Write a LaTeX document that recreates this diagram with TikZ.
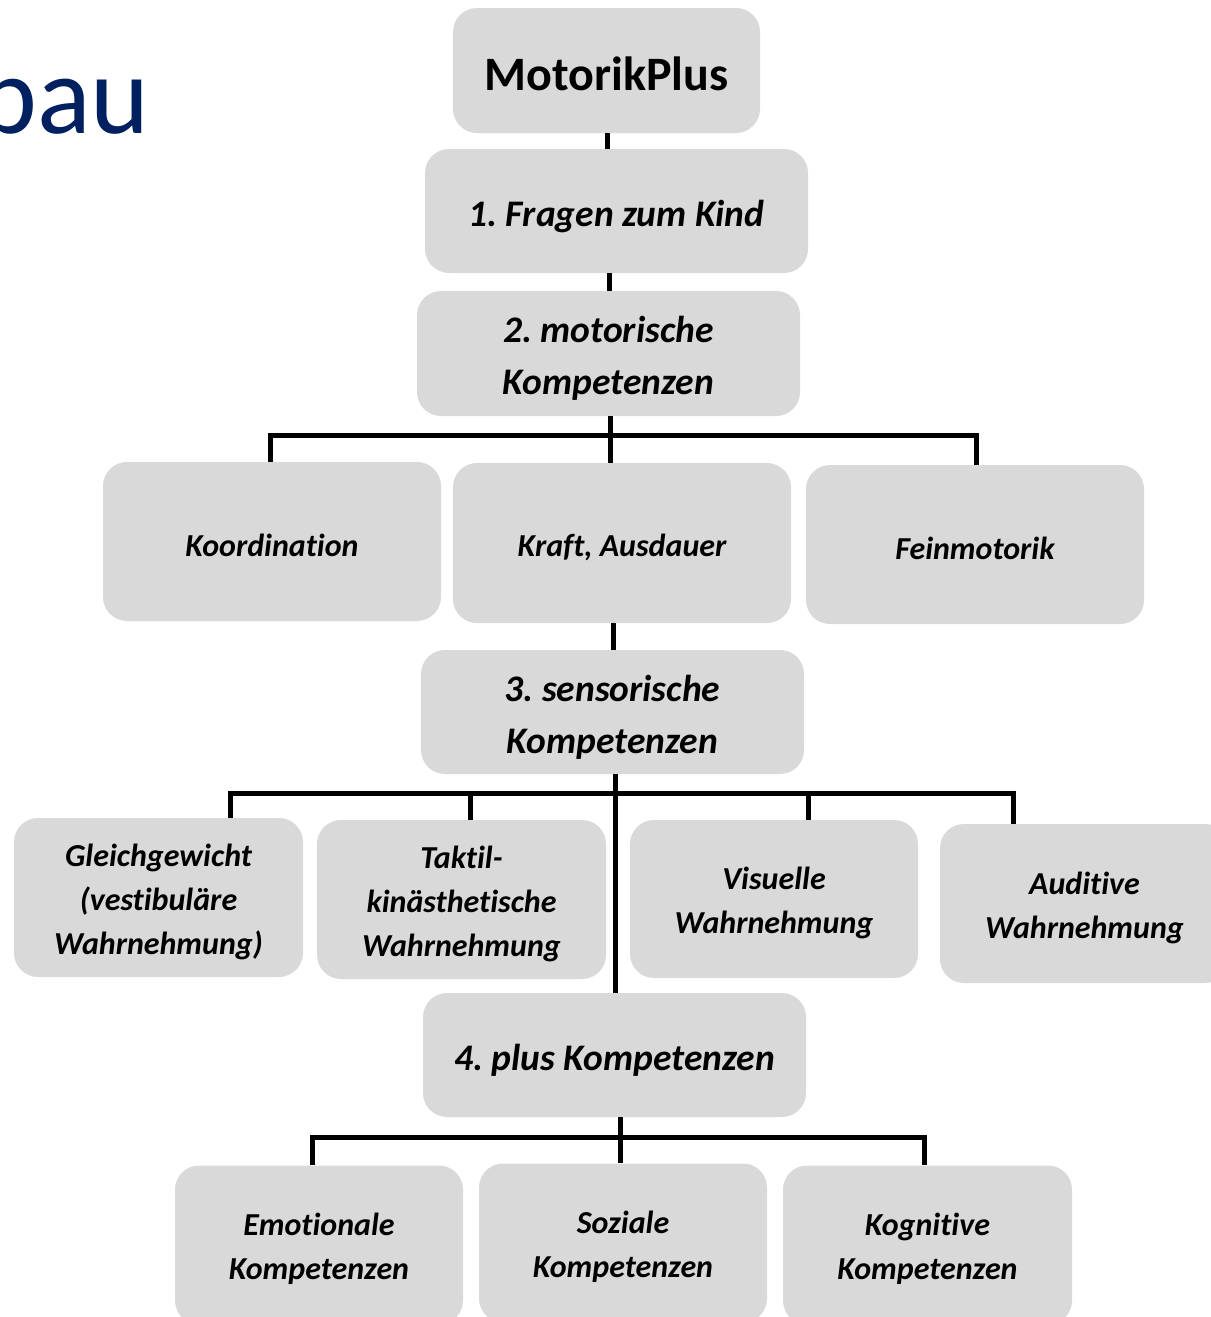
\documentclass[tikz,border=0pt]{standalone}
\usepackage{fontspec}
\setmainfont{Carlito}[Ligatures=NoCommon]
\definecolor{boxgray}{HTML}{D9D9D9}
\definecolor{navy}{HTML}{002060}
\begin{document}
\frenchspacing
\begin{tikzpicture}[x=1pt,y=-1pt,
  box/.style={fill=boxgray, rounded corners=24pt, inner sep=0pt},
  smalltext/.style={align=center, inner sep=0pt, yshift=-4pt,
    font=\fontsize{32}{44}\selectfont\bfseries\itshape},
  bigtext/.style={align=center, inner sep=0pt, yshift=-5pt,
    font=\fontsize{37.5}{52}\selectfont\bfseries\itshape},
  toptext/.style={align=center, inner sep=0pt, yshift=-3pt,
    font=\fontsize{48}{56}\selectfont\bfseries},
  conn/.style={line width=5pt, black}]
\useasboundingbox (0,0) rectangle (1210,1317);

\node[anchor=base east, text=navy, inner sep=0pt, font=\fontsize{112}{112}\selectfont] (title) at (150,133) {bau};

% level 0/1
\node[box, minimum width=307pt, minimum height=125pt, label={[toptext]center:MotorikPlus}] (mp) at (606.5,70.5) {};
\node[box, minimum width=383pt, minimum height=124pt, label={[bigtext]center:1. Fragen zum Kind}] (f1) at (616.5,211) {};
\node[box, minimum width=383pt, minimum height=125pt, label={[bigtext]center:{2. motorische\\Kompetenzen}}] (f2) at (608.5,353.5) {};

% motor row
\node[box, minimum width=338pt, minimum height=159pt, label={[smalltext]center:Koordination}] (koord) at (272,541.5) {};
\node[box, minimum width=338pt, minimum height=160pt, label={[smalltext]center:{Kraft, Ausdauer}}] (kraft) at (622,543) {};
\node[box, minimum width=338pt, minimum height=159pt, label={[smalltext]center:Feinmotorik}] (fein) at (975,544.5) {};

\node[box, minimum width=383pt, minimum height=124pt, label={[bigtext]center:{3. sensorische\\Kompetenzen}}] (f3) at (612.5,712) {};

% sensory row
\node[box, minimum width=289pt, minimum height=159pt, label={[smalltext]center:{Gleichgewicht\\(vestibuläre\\Wahrnehmung)}}] (gleich) at (158.5,897.5) {};
\node[box, minimum width=289pt, minimum height=159pt, label={[smalltext]center:{Taktil-\\kinästhetische\\Wahrnehmung}}] (taktil) at (461.5,899.5) {};
\node[box, minimum width=288pt, minimum height=158pt, label={[smalltext]center:{Visuelle\\Wahrnehmung}}] (visu) at (774,899) {};
\node[box, minimum width=289pt, minimum height=159pt, label={[smalltext]center:{Auditive\\Wahrnehmung}}] (audi) at (1084.5,903.5) {};

\node[box, minimum width=383pt, minimum height=124pt, label={[bigtext]center:4. plus Kompetenzen}] (f4) at (614.5,1055) {};

% plus row
\node[box, minimum width=288pt, minimum height=159pt, label={[smalltext]center:{Emotionale\\Kompetenzen}}] (emo) at (319,1245) {};
\node[box, minimum width=288pt, minimum height=159pt, label={[smalltext]center:{Soziale\\Kompetenzen}}] (soz) at (623,1243) {};
\node[box, minimum width=289pt, minimum height=159pt, label={[smalltext]center:{Kognitive\\Kompetenzen}}] (kogn) at (927.5,1245) {};

% connectors
\coordinate (c1) at (607,0);
\draw[conn] (c1 |- mp.south) -- (c1 |- f1.north);
\coordinate (c2) at (609,0);
\draw[conn] (c2 |- f1.south) -- (c2 |- f2.north);

\coordinate (b2) at (610,435);
\draw[conn] (b2 |- f2.south) -- (b2 |- kraft.north);
\coordinate (b2l) at (270,435);
\coordinate (b2r) at (976,435);
\draw[conn] (b2l |- koord.north) -- (b2l) -- (b2r) -- (b2r |- fein.north);

\coordinate (c3) at (613,0);
\draw[conn] (c3 |- kraft.south) -- (c3 |- f3.north);

\coordinate (b3) at (615,793);
\draw[conn] (b3 |- f3.south) -- (b3 |- f4.north);
\coordinate (b3a) at (230,793);
\coordinate (b3b) at (470,793);
\coordinate (b3c) at (808,793);
\coordinate (b3d) at (1013,793);
\draw[conn] (b3a |- gleich.north) -- (b3a) -- (b3d) -- (b3d |- audi.north);
\draw[conn] (b3b) -- (b3b |- taktil.north);
\draw[conn] (b3c) -- (b3c |- visu.north);

\coordinate (b4) at (620,1137);
\draw[conn] (b4 |- f4.south) -- (b4 |- soz.north);
\coordinate (b4l) at (312,1137);
\coordinate (b4r) at (924,1137);
\draw[conn] (b4l |- emo.north) -- (b4l) -- (b4r) -- (b4r |- kogn.north);
\end{tikzpicture}
\end{document}
